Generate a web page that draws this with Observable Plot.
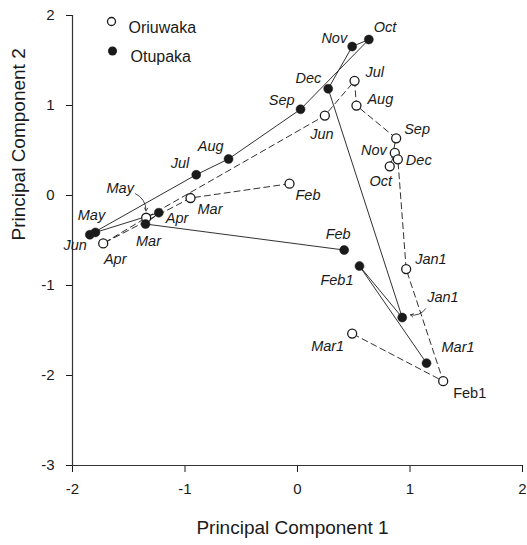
<!DOCTYPE html>
<html>
<head>
<meta charset="utf-8">
<script src="https://cdn.jsdelivr.net/npm/d3@7"></script>
<script src="https://cdn.jsdelivr.net/npm/@observablehq/plot@0.6"></script>
<style>
  html, body { margin: 0; padding: 0; background: #fff; }
  #chart svg { overflow: visible; }
</style>
</head>
<body>
<div id="chart"></div>
<script>
// ---- data ----
const months = ["Feb","Mar","Apr","May","Jun","Jul","Aug","Sep","Oct","Nov","Dec","Jan1","Feb1","Mar1"];
const otupakaPC1 = [0.415, -1.351, -1.233, -1.796, -1.846, -0.900, -0.613, 0.027, 0.634, 0.486, 0.273, 0.931, 0.551, 1.147];
const otupakaPC2 = [-0.606, -0.317, -0.191, -0.410, -0.436, 0.231, 0.406, 0.958, 1.733, 1.655, 1.186, -1.356, -0.784, -1.863];
const oriuwakaPC1 = [-0.071, -0.951, -1.727, -1.345, 0.243, 0.507, 0.524, 0.877, 0.820, 0.865, 0.892, 0.966, 1.295, 0.486];
const oriuwakaPC2 = [0.131, -0.028, -0.533, -0.247, 0.888, 1.274, 0.999, 0.635, 0.324, 0.473, 0.402, -0.818, -2.063, -1.534];
const seriesNames = ["Oriuwaka", "Otupaka"];
const xTicks = [-2, -1, 0, 1, 2];
const yTicks = [-3, -2, -1, 0, 1, 2];
const xTitle = "Principal Component 1";
const yTitle = "Principal Component 2";

// annotation arrows (label -> point), in data units
const arrowFromX = [1.138, -1.44];
const arrowFromY = [-1.259, 0.02];
const arrowToX = [1.004, -1.347];
const arrowToY = [-1.326, -0.17];

// ---- label placement (layout only) ----
const otupakaLabelPos = {
  Feb: [-6, -16, "middle"], Mar: [3, 17, "middle"], Apr: [7, 6, "start"], May: [-4, -17, "middle"],
  Jun: [-3, 11, "end"], Jul: [-7, -11, "end"], Aug: [-5, -13, "end"], Sep: [-6, -9, "end"],
  Oct: [5, -12, "start"], Nov: [-5, -8, "end"], Dec: [-7, -10, "end"], Jan1: [25, -20, "start"],
  Feb1: [-6, 14, "end"], Mar1: [15, -16, "start"]
};
const oriuwakaLabelPos = {
  Feb: [6, 12, "start"], Mar: [7, 11, "start"], Apr: [12, 16, "middle"], May: [-26, -29, "middle"],
  Jun: [-3, 19, "middle"], Jul: [11, -8, "start"], Aug: [11, -6, "start"], Sep: [8, -9, "start"],
  Oct: [-9, 15, "middle"], Nov: [-8, -3, "end"], Dec: [8, 1, "start"], Jan1: [9, -10, "start"],
  Feb1: [10, 12, "start"], Mar1: [-8, 13, "end"]
};

const otupaka = months.map((m, i) => ({month: m, x: otupakaPC1[i], y: otupakaPC2[i]}));
const oriuwaka = months.map((m, i) => ({month: m, x: oriuwakaPC1[i], y: oriuwakaPC2[i]}));
const arrows = arrowFromX.map((_, i) => ({x1: arrowFromX[i], y1: arrowFromY[i], x2: arrowToX[i], y2: arrowToY[i]}));

const FONT = "'Liberation Sans', Arial, Helvetica, sans-serif";
const INK = "#1a1a1a";

function labelMarks(rows, pos, nonItalic) {
  return rows.map(r => {
    const [dx, dy, anchor] = pos[r.month];
    return Plot.text([r], {
      x: "x", y: "y", text: "month", dx, dy, textAnchor: anchor,
      fontSize: 14.5, fontStyle: nonItalic.includes(r.month) ? "normal" : "italic",
      fill: INK
    });
  });
}

const chart = Plot.plot({
  width: 527,
  height: 545,
  marginLeft: 72,
  marginRight: 5,
  marginTop: 15,
  marginBottom: 80,
  style: {fontFamily: FONT, fontSize: "15px", color: INK, background: "#fff"},
  x: {domain: [-2, 2], ticks: xTicks, tickFormat: d => String(d), tickSize: 7, tickPadding: 11, label: null},
  y: {domain: [-3, 2], ticks: yTicks, tickFormat: d => String(d), tickSize: 6, tickPadding: 12, label: null},
  marks: [
    Plot.ruleX([-2], {stroke: "#333", strokeWidth: 1.2}),
    Plot.ruleY([-3], {stroke: "#333", strokeWidth: 1.2}),
    Plot.line(oriuwaka, {x: "x", y: "y", stroke: INK, strokeWidth: 0.9, strokeDasharray: "6,4"}),
    Plot.line(otupaka, {x: "x", y: "y", stroke: INK, strokeWidth: 0.9}),
    Plot.arrow(arrows, {x1: "x1", y1: "y1", x2: "x2", y2: "y2", bend: 35, headLength: 6, stroke: INK, strokeWidth: 0.8}),
    Plot.dot(oriuwaka, {x: "x", y: "y", r: 4.5, fill: "white", stroke: INK, strokeWidth: 1.3}),
    Plot.dot(otupaka, {x: "x", y: "y", r: 4.5, fill: INK, stroke: INK, strokeWidth: 0.5}),
    ...labelMarks(otupaka, otupakaLabelPos, []),
    ...labelMarks(oriuwaka, oriuwakaLabelPos, ["Feb1"]),
    // legend
    Plot.dot([seriesNames[0]], {frameAnchor: "top-left", dx: 39, dy: 6, r: 4, fill: "white", stroke: INK, strokeWidth: 1.3}),
    Plot.dot([seriesNames[1]], {frameAnchor: "top-left", dx: 40, dy: 35.5, r: 4.5, fill: INK}),
    Plot.text([seriesNames[0]], {frameAnchor: "top-left", dx: 56, dy: 6, text: d => d, textAnchor: "start", fontSize: 16, fill: INK}),
    Plot.text([seriesNames[1]], {frameAnchor: "top-left", dx: 58, dy: 35.5, text: d => d, textAnchor: "start", fontSize: 16, fill: INK}),
    // axis titles
    Plot.text([xTitle], {frameAnchor: "bottom", dx: -5, dy: 68, text: d => d, fontSize: 19, fill: INK}),
    Plot.text([yTitle], {frameAnchor: "left", dx: -54, dy: 0, rotate: -90, text: d => d, fontSize: 19, fill: INK})
  ]
});
document.getElementById("chart").appendChild(chart);
</script>
</body>
</html>
